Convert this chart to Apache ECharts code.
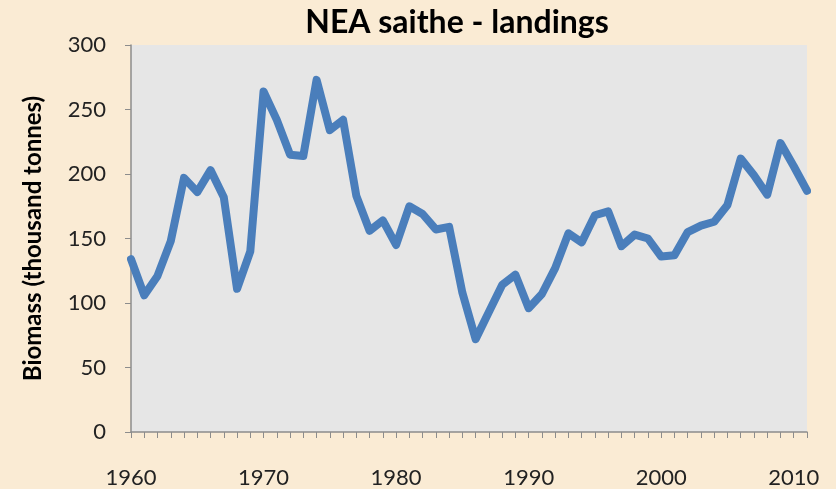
<!DOCTYPE html>
<html>
<head>
<meta charset="utf-8">
<script src="https://cdn.jsdelivr.net/npm/echarts@6/dist/echarts.min.js"></script>
<style>
  html, body { margin: 0; padding: 0; background: #faebd4; }
  #chart { width: 836px; height: 489px; }
</style>
</head>
<body>
<div id="chart"></div>
<script>
const years = [];
for (let y = 1960; y <= 2011; y++) years.push(String(y));

// landings, thousand tonnes
const landings = [
  134, 106, 121, 148, 197, 186, 203, 182, 111, 140,
  264, 242, 215, 214, 273, 234, 242, 183, 156, 164,
  145, 175, 169, 157, 159, 108, 72, 93, 114, 122,
  96, 107, 127, 154, 147, 168, 171, 144, 153, 150,
  136, 137, 155, 160, 163, 176, 212, 199, 184, 224,
  206, 187
];

const chart = echarts.init(document.getElementById("chart"));
const font = "Lato, 'Open Sans', sans-serif";

chart.setOption({
  backgroundColor: "#faebd4",
  textStyle: { fontFamily: font },
  title: {
    text: "NEA saithe - landings",
    left: 452,
    top: 2,
    textAlign: "center",
    textStyle: { fontFamily: font, fontSize: 32, fontWeight: "bold", color: "#000" },
  },
  grid: { left: 131, right: 29, top: 45, bottom: 55, show: true, backgroundColor: "#e6e6e6", borderWidth: 0 },
  xAxis: {
    type: "category",
    data: years,
    boundaryGap: false,
    axisLine: { lineStyle: { color: "#8c8c8c", width: 1.5 } },
    axisTick: { interval: 0, length: 6, lineStyle: { color: "#8c8c8c" } },
    axisLabel: { interval: 9, margin: 35, fontSize: 22, color: "#222", fontFamily: font },
    splitLine: { show: false },
  },
  yAxis: {
    type: "value",
    min: 0,
    max: 300,
    interval: 50,
    name: "Biomass (thousand tonnes)",
    nameLocation: "middle",
    nameGap: 86,
    nameTextStyle: { fontSize: 24, fontWeight: "bold", color: "#000", fontFamily: font },
    axisLine: { show: true, lineStyle: { color: "#8c8c8c", width: 1.5 } },
    axisTick: { show: true, length: 6, lineStyle: { color: "#8c8c8c" } },
    axisLabel: { fontSize: 22, color: "#222", margin: 25, fontFamily: font },
    splitLine: { show: false },
  },
  series: [
    {
      type: "line",
      data: landings,
      symbol: "none",
      lineStyle: { color: "#4a7ebb", width: 8, join: "round", cap: "round" },
      clip: true,
    },
  ],
});
</script>
</body>
</html>
